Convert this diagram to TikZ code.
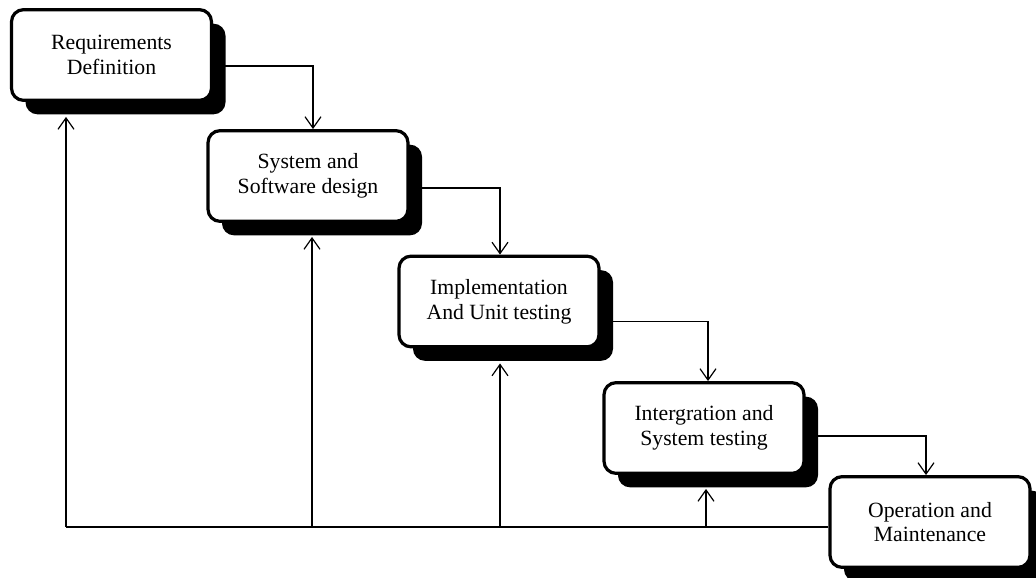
\documentclass[tikz,border=0pt]{standalone}
\usepackage{fontspec}
\setmainfont{Liberation Serif}
\usetikzlibrary{shadows,calc,arrows.meta}
\begin{document}
\begin{tikzpicture}[x=0.75pt,y=-0.75pt,
  stage/.style={draw=black, line width=2.4pt, fill=white, rounded corners=9pt,
    minimum width=150pt, minimum height=68pt, inner sep=0pt, align=center,
    font=\fontsize{16.3}{18.5}\selectfont,
    drop shadow={shadow xshift=10.5pt, shadow yshift=-10.5pt, opacity=1, fill=black}},
  arr/.style={line width=0.9pt, -{Straight Barb[length=8.5pt,width=12pt,line width=0.9pt]}},
  ln/.style={line width=0.9pt}]
\useasboundingbox (0,0) rectangle (1036,578);
\node[stage] (b1) at (111.5,55) {Requirements\\Definition};
\node[stage] (b2) at (308,176) {System and\\Software design};
\node[stage] (b3) at (499,301.5) {Implementation\\And Unit testing};
\node[stage] (b4) at (704,428) {Intergration and\\System testing};
\node[stage] (b5) at (930,522) {Operation and\\Maintenance};
% forward flow
\draw[arr] ($(b1.east)+(0,11)$) -| ($(b2.north)+(5,0)$);
\draw[arr] ($(b2.east)+(0,12)$) -| ($(b3.north)+(1,0)$);
\draw[arr] ($(b3.east)+(0,20)$) -| ($(b4.north)+(4,0)$);
\draw[arr] ($(b4.east)+(0,8)$) -| ($(b5.north)+(-4,0)$);
% feedback
\coordinate (base) at (66,527);
\coordinate (s1) at ($(b1.south)+(0,15)$);
\coordinate (s2) at ($(b2.south)+(0,14)$);
\coordinate (s3) at ($(b3.south)+(0,15)$);
\coordinate (s4) at ($(b4.south)+(0,14)$);
\draw[ln] (b5.west |- base) -- (base);
\draw[arr] (base) -- (base |- s1);
\draw[arr] (312,527) -- (312,0 |- s2);
\draw[arr] (500,527) -- (500,0 |- s3);
\draw[arr] (706,527) -- (706,0 |- s4);
\end{tikzpicture}
\end{document}
